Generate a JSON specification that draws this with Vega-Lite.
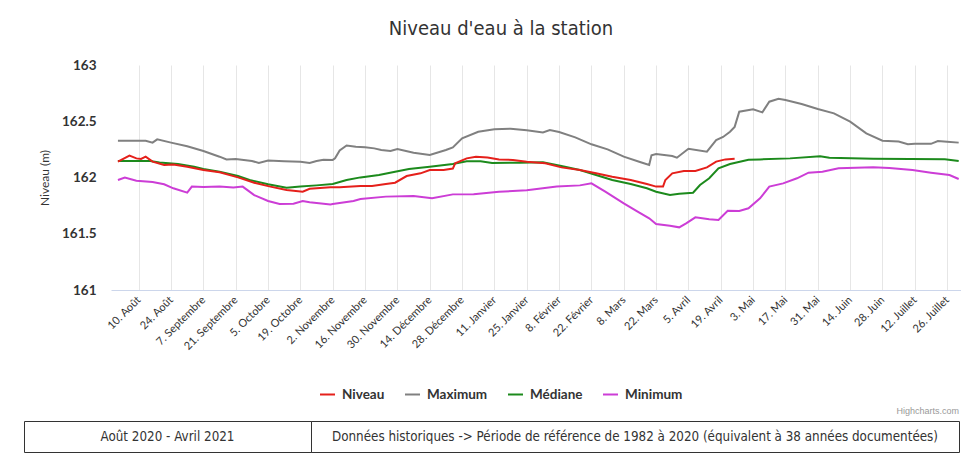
{
  "$schema": "https://vega.github.io/schema/vega-lite/v6.json",
  "background": "white",
  "padding": {"left": 23, "top": 19, "right": 0, "bottom": 0},
  "config": {"view": {"stroke": null}, "font": "Lato"},
  "bounds": "flush",
  "spacing": 356,
  "vconcat": [
    {
      "bounds": "flush",
      "spacing": 0,
      "hconcat": [
        {
          "width": 87,
          "height": 225,
          "data": {"values": [{"t": ""}]},
          "mark": {"type": "text"},
          "encoding": {"text": {"field": "t"}}
        },
        {
          "width": 850,
          "height": 225,
          "title": {
            "text": "Niveau d'eau à la station",
            "anchor": "middle",
            "frame": "group",
            "dx": -35,
            "offset": 3,
            "baseline": "alphabetic",
            "font": "'Liberation Sans Narrow', 'DejaVu Sans Condensed', 'Liberation Sans', sans-serif",
            "fontSize": 20,
            "fontWeight": "normal",
            "color": "#333333"
          },
          "data": {
            "values": [
              {"d": "2020-08-01", "s": "Maximum", "v": 162.327},
              {"d": "2020-08-13", "s": "Maximum", "v": 162.327},
              {"d": "2020-08-16", "s": "Maximum", "v": 162.31},
              {"d": "2020-08-18", "s": "Maximum", "v": 162.339},
              {"d": "2020-08-24", "s": "Maximum", "v": 162.31},
              {"d": "2020-08-31", "s": "Maximum", "v": 162.278},
              {"d": "2020-09-07", "s": "Maximum", "v": 162.236},
              {"d": "2020-09-14", "s": "Maximum", "v": 162.185},
              {"d": "2020-09-17", "s": "Maximum", "v": 162.161},
              {"d": "2020-09-21", "s": "Maximum", "v": 162.164},
              {"d": "2020-09-28", "s": "Maximum", "v": 162.147},
              {"d": "2020-10-01", "s": "Maximum", "v": 162.13},
              {"d": "2020-10-05", "s": "Maximum", "v": 162.15},
              {"d": "2020-10-12", "s": "Maximum", "v": 162.144},
              {"d": "2020-10-19", "s": "Maximum", "v": 162.141},
              {"d": "2020-10-23", "s": "Maximum", "v": 162.13},
              {"d": "2020-10-26", "s": "Maximum", "v": 162.147},
              {"d": "2020-10-29", "s": "Maximum", "v": 162.158},
              {"d": "2020-11-02", "s": "Maximum", "v": 162.156},
              {"d": "2020-11-03", "s": "Maximum", "v": 162.17},
              {"d": "2020-11-05", "s": "Maximum", "v": 162.24},
              {"d": "2020-11-08", "s": "Maximum", "v": 162.285},
              {"d": "2020-11-12", "s": "Maximum", "v": 162.274},
              {"d": "2020-11-16", "s": "Maximum", "v": 162.268},
              {"d": "2020-11-20", "s": "Maximum", "v": 162.259},
              {"d": "2020-11-23", "s": "Maximum", "v": 162.244},
              {"d": "2020-11-27", "s": "Maximum", "v": 162.236},
              {"d": "2020-11-30", "s": "Maximum", "v": 162.253},
              {"d": "2020-12-07", "s": "Maximum", "v": 162.22},
              {"d": "2020-12-14", "s": "Maximum", "v": 162.2},
              {"d": "2020-12-21", "s": "Maximum", "v": 162.244},
              {"d": "2020-12-24", "s": "Maximum", "v": 162.268},
              {"d": "2020-12-28", "s": "Maximum", "v": 162.348},
              {"d": "2021-01-04", "s": "Maximum", "v": 162.407},
              {"d": "2021-01-11", "s": "Maximum", "v": 162.428},
              {"d": "2021-01-18", "s": "Maximum", "v": 162.434},
              {"d": "2021-01-25", "s": "Maximum", "v": 162.42},
              {"d": "2021-02-01", "s": "Maximum", "v": 162.401},
              {"d": "2021-02-04", "s": "Maximum", "v": 162.422},
              {"d": "2021-02-08", "s": "Maximum", "v": 162.404},
              {"d": "2021-02-15", "s": "Maximum", "v": 162.357},
              {"d": "2021-02-22", "s": "Maximum", "v": 162.295},
              {"d": "2021-03-01", "s": "Maximum", "v": 162.25},
              {"d": "2021-03-08", "s": "Maximum", "v": 162.185},
              {"d": "2021-03-15", "s": "Maximum", "v": 162.138},
              {"d": "2021-03-19", "s": "Maximum", "v": 162.111},
              {"d": "2021-03-20", "s": "Maximum", "v": 162.197},
              {"d": "2021-03-22", "s": "Maximum", "v": 162.209},
              {"d": "2021-03-29", "s": "Maximum", "v": 162.191},
              {"d": "2021-03-31", "s": "Maximum", "v": 162.176},
              {"d": "2021-04-05", "s": "Maximum", "v": 162.256},
              {"d": "2021-04-13", "s": "Maximum", "v": 162.23},
              {"d": "2021-04-17", "s": "Maximum", "v": 162.333},
              {"d": "2021-04-20", "s": "Maximum", "v": 162.36},
              {"d": "2021-04-23", "s": "Maximum", "v": 162.407},
              {"d": "2021-04-25", "s": "Maximum", "v": 162.45},
              {"d": "2021-04-27", "s": "Maximum", "v": 162.585},
              {"d": "2021-05-03", "s": "Maximum", "v": 162.606},
              {"d": "2021-05-07", "s": "Maximum", "v": 162.579},
              {"d": "2021-05-10", "s": "Maximum", "v": 162.674},
              {"d": "2021-05-14", "s": "Maximum", "v": 162.7},
              {"d": "2021-05-17", "s": "Maximum", "v": 162.689},
              {"d": "2021-05-24", "s": "Maximum", "v": 162.653},
              {"d": "2021-05-31", "s": "Maximum", "v": 162.609},
              {"d": "2021-06-07", "s": "Maximum", "v": 162.57},
              {"d": "2021-06-14", "s": "Maximum", "v": 162.496},
              {"d": "2021-06-21", "s": "Maximum", "v": 162.393},
              {"d": "2021-06-28", "s": "Maximum", "v": 162.327},
              {"d": "2021-07-05", "s": "Maximum", "v": 162.319},
              {"d": "2021-07-09", "s": "Maximum", "v": 162.295},
              {"d": "2021-07-12", "s": "Maximum", "v": 162.3},
              {"d": "2021-07-19", "s": "Maximum", "v": 162.299},
              {"d": "2021-07-22", "s": "Maximum", "v": 162.324},
              {"d": "2021-07-26", "s": "Maximum", "v": 162.318},
              {"d": "2021-07-31", "s": "Maximum", "v": 162.31},

              {"d": "2020-08-01", "s": "Médiane", "v": 162.147},
              {"d": "2020-08-15", "s": "Médiane", "v": 162.147},
              {"d": "2020-08-19", "s": "Médiane", "v": 162.134},
              {"d": "2020-08-27", "s": "Médiane", "v": 162.12},
              {"d": "2020-09-03", "s": "Médiane", "v": 162.096},
              {"d": "2020-09-07", "s": "Médiane", "v": 162.076},
              {"d": "2020-09-14", "s": "Médiane", "v": 162.052},
              {"d": "2020-09-22", "s": "Médiane", "v": 162.013},
              {"d": "2020-09-27", "s": "Médiane", "v": 161.978},
              {"d": "2020-10-05", "s": "Médiane", "v": 161.94},
              {"d": "2020-10-13", "s": "Médiane", "v": 161.91},
              {"d": "2020-10-19", "s": "Médiane", "v": 161.919},
              {"d": "2020-10-26", "s": "Médiane", "v": 161.93},
              {"d": "2020-11-02", "s": "Médiane", "v": 161.942},
              {"d": "2020-11-08", "s": "Médiane", "v": 161.978},
              {"d": "2020-11-14", "s": "Médiane", "v": 162.001},
              {"d": "2020-11-22", "s": "Médiane", "v": 162.022},
              {"d": "2020-11-29", "s": "Médiane", "v": 162.052},
              {"d": "2020-12-05", "s": "Médiane", "v": 162.076},
              {"d": "2020-12-14", "s": "Médiane", "v": 162.096},
              {"d": "2020-12-24", "s": "Médiane", "v": 162.12},
              {"d": "2020-12-30", "s": "Médiane", "v": 162.144},
              {"d": "2021-01-05", "s": "Médiane", "v": 162.144},
              {"d": "2021-01-10", "s": "Médiane", "v": 162.129},
              {"d": "2021-01-22", "s": "Médiane", "v": 162.132},
              {"d": "2021-02-01", "s": "Médiane", "v": 162.136},
              {"d": "2021-02-09", "s": "Médiane", "v": 162.102},
              {"d": "2021-02-17", "s": "Médiane", "v": 162.067},
              {"d": "2021-02-24", "s": "Médiane", "v": 162.022},
              {"d": "2021-03-03", "s": "Médiane", "v": 161.978},
              {"d": "2021-03-11", "s": "Médiane", "v": 161.942},
              {"d": "2021-03-18", "s": "Médiane", "v": 161.904},
              {"d": "2021-03-22", "s": "Médiane", "v": 161.874},
              {"d": "2021-03-28", "s": "Médiane", "v": 161.844},
              {"d": "2021-04-01", "s": "Médiane", "v": 161.855},
              {"d": "2021-04-07", "s": "Médiane", "v": 161.865},
              {"d": "2021-04-10", "s": "Médiane", "v": 161.933},
              {"d": "2021-04-14", "s": "Médiane", "v": 161.993},
              {"d": "2021-04-18", "s": "Médiane", "v": 162.082},
              {"d": "2021-04-23", "s": "Médiane", "v": 162.12},
              {"d": "2021-05-01", "s": "Médiane", "v": 162.158},
              {"d": "2021-05-06", "s": "Médiane", "v": 162.161},
              {"d": "2021-05-19", "s": "Médiane", "v": 162.17},
              {"d": "2021-06-01", "s": "Médiane", "v": 162.189},
              {"d": "2021-06-05", "s": "Médiane", "v": 162.175},
              {"d": "2021-06-24", "s": "Médiane", "v": 162.167},
              {"d": "2021-07-10", "s": "Médiane", "v": 162.165},
              {"d": "2021-07-25", "s": "Médiane", "v": 162.163},
              {"d": "2021-07-31", "s": "Médiane", "v": 162.147},

              {"d": "2020-08-01", "s": "Niveau", "v": 162.141},
              {"d": "2020-08-06", "s": "Niveau", "v": 162.194},
              {"d": "2020-08-09", "s": "Niveau", "v": 162.17},
              {"d": "2020-08-11", "s": "Niveau", "v": 162.165},
              {"d": "2020-08-13", "s": "Niveau", "v": 162.185},
              {"d": "2020-08-16", "s": "Niveau", "v": 162.141},
              {"d": "2020-08-21", "s": "Niveau", "v": 162.111},
              {"d": "2020-08-25", "s": "Niveau", "v": 162.115},
              {"d": "2020-08-31", "s": "Niveau", "v": 162.096},
              {"d": "2020-09-07", "s": "Niveau", "v": 162.067},
              {"d": "2020-09-14", "s": "Niveau", "v": 162.046},
              {"d": "2020-09-22", "s": "Niveau", "v": 162.001},
              {"d": "2020-09-29", "s": "Niveau", "v": 161.954},
              {"d": "2020-10-06", "s": "Niveau", "v": 161.919},
              {"d": "2020-10-13", "s": "Niveau", "v": 161.889},
              {"d": "2020-10-20", "s": "Niveau", "v": 161.874},
              {"d": "2020-10-23", "s": "Niveau", "v": 161.9},
              {"d": "2020-11-01", "s": "Niveau", "v": 161.913},
              {"d": "2020-11-05", "s": "Niveau", "v": 161.913},
              {"d": "2020-11-14", "s": "Niveau", "v": 161.924},
              {"d": "2020-11-19", "s": "Niveau", "v": 161.924},
              {"d": "2020-11-25", "s": "Niveau", "v": 161.942},
              {"d": "2020-11-29", "s": "Niveau", "v": 161.954},
              {"d": "2020-12-04", "s": "Niveau", "v": 162.013},
              {"d": "2020-12-10", "s": "Niveau", "v": 162.037},
              {"d": "2020-12-14", "s": "Niveau", "v": 162.067},
              {"d": "2020-12-20", "s": "Niveau", "v": 162.067},
              {"d": "2020-12-24", "s": "Niveau", "v": 162.079},
              {"d": "2020-12-25", "s": "Niveau", "v": 162.126},
              {"d": "2020-12-30", "s": "Niveau", "v": 162.17},
              {"d": "2021-01-03", "s": "Niveau", "v": 162.185},
              {"d": "2021-01-08", "s": "Niveau", "v": 162.178},
              {"d": "2021-01-13", "s": "Niveau", "v": 162.161},
              {"d": "2021-01-19", "s": "Niveau", "v": 162.156},
              {"d": "2021-01-25", "s": "Niveau", "v": 162.141},
              {"d": "2021-02-02", "s": "Niveau", "v": 162.126},
              {"d": "2021-02-09", "s": "Niveau", "v": 162.09},
              {"d": "2021-02-17", "s": "Niveau", "v": 162.067},
              {"d": "2021-02-24", "s": "Niveau", "v": 162.037},
              {"d": "2021-03-03", "s": "Niveau", "v": 162.007},
              {"d": "2021-03-11", "s": "Niveau", "v": 161.978},
              {"d": "2021-03-18", "s": "Niveau", "v": 161.942},
              {"d": "2021-03-22", "s": "Niveau", "v": 161.919},
              {"d": "2021-03-25", "s": "Niveau", "v": 161.919},
              {"d": "2021-03-26", "s": "Niveau", "v": 161.978},
              {"d": "2021-03-29", "s": "Niveau", "v": 162.037},
              {"d": "2021-04-03", "s": "Niveau", "v": 162.058},
              {"d": "2021-04-08", "s": "Niveau", "v": 162.058},
              {"d": "2021-04-13", "s": "Niveau", "v": 162.09},
              {"d": "2021-04-17", "s": "Niveau", "v": 162.141},
              {"d": "2021-04-21", "s": "Niveau", "v": 162.161},
              {"d": "2021-04-25", "s": "Niveau", "v": 162.167},

              {"d": "2020-08-01", "s": "Minimum", "v": 161.978},
              {"d": "2020-08-04", "s": "Minimum", "v": 161.999},
              {"d": "2020-08-09", "s": "Minimum", "v": 161.972},
              {"d": "2020-08-16", "s": "Minimum", "v": 161.96},
              {"d": "2020-08-21", "s": "Minimum", "v": 161.94},
              {"d": "2020-08-25", "s": "Minimum", "v": 161.904},
              {"d": "2020-08-31", "s": "Minimum", "v": 161.865},
              {"d": "2020-09-02", "s": "Minimum", "v": 161.919},
              {"d": "2020-09-07", "s": "Minimum", "v": 161.915},
              {"d": "2020-09-14", "s": "Minimum", "v": 161.919},
              {"d": "2020-09-20", "s": "Minimum", "v": 161.912},
              {"d": "2020-09-24", "s": "Minimum", "v": 161.919},
              {"d": "2020-09-29", "s": "Minimum", "v": 161.844},
              {"d": "2020-10-05", "s": "Minimum", "v": 161.791},
              {"d": "2020-10-10", "s": "Minimum", "v": 161.764},
              {"d": "2020-10-16", "s": "Minimum", "v": 161.766},
              {"d": "2020-10-20", "s": "Minimum", "v": 161.791},
              {"d": "2020-10-23", "s": "Minimum", "v": 161.78},
              {"d": "2020-11-01", "s": "Minimum", "v": 161.761},
              {"d": "2020-11-02", "s": "Minimum", "v": 161.764},
              {"d": "2020-11-11", "s": "Minimum", "v": 161.791},
              {"d": "2020-11-14", "s": "Minimum", "v": 161.809},
              {"d": "2020-11-25", "s": "Minimum", "v": 161.83},
              {"d": "2020-12-07", "s": "Minimum", "v": 161.836},
              {"d": "2020-12-15", "s": "Minimum", "v": 161.815},
              {"d": "2020-12-24", "s": "Minimum", "v": 161.85},
              {"d": "2021-01-02", "s": "Minimum", "v": 161.852},
              {"d": "2021-01-13", "s": "Minimum", "v": 161.874},
              {"d": "2021-01-25", "s": "Minimum", "v": 161.886},
              {"d": "2021-02-07", "s": "Minimum", "v": 161.919},
              {"d": "2021-02-17", "s": "Minimum", "v": 161.93},
              {"d": "2021-02-22", "s": "Minimum", "v": 161.948},
              {"d": "2021-02-28", "s": "Minimum", "v": 161.874},
              {"d": "2021-03-08", "s": "Minimum", "v": 161.77},
              {"d": "2021-03-14", "s": "Minimum", "v": 161.696},
              {"d": "2021-03-19", "s": "Minimum", "v": 161.637},
              {"d": "2021-03-22", "s": "Minimum", "v": 161.587},
              {"d": "2021-03-28", "s": "Minimum", "v": 161.572},
              {"d": "2021-04-01", "s": "Minimum", "v": 161.557},
              {"d": "2021-04-04", "s": "Minimum", "v": 161.593},
              {"d": "2021-04-08", "s": "Minimum", "v": 161.646},
              {"d": "2021-04-14", "s": "Minimum", "v": 161.628},
              {"d": "2021-04-18", "s": "Minimum", "v": 161.622},
              {"d": "2021-04-22", "s": "Minimum", "v": 161.705},
              {"d": "2021-04-27", "s": "Minimum", "v": 161.702},
              {"d": "2021-05-01", "s": "Minimum", "v": 161.726},
              {"d": "2021-05-06", "s": "Minimum", "v": 161.815},
              {"d": "2021-05-10", "s": "Minimum", "v": 161.919},
              {"d": "2021-05-16", "s": "Minimum", "v": 161.948},
              {"d": "2021-05-22", "s": "Minimum", "v": 161.993},
              {"d": "2021-05-27", "s": "Minimum", "v": 162.043},
              {"d": "2021-06-02", "s": "Minimum", "v": 162.052},
              {"d": "2021-06-09", "s": "Minimum", "v": 162.082},
              {"d": "2021-06-24", "s": "Minimum", "v": 162.09},
              {"d": "2021-07-01", "s": "Minimum", "v": 162.085},
              {"d": "2021-07-11", "s": "Minimum", "v": 162.067},
              {"d": "2021-07-19", "s": "Minimum", "v": 162.043},
              {"d": "2021-07-27", "s": "Minimum", "v": 162.022},
              {"d": "2021-07-31", "s": "Minimum", "v": 161.987}
            ]
          },
          "mark": {"type": "line", "strokeWidth": 2, "interpolate": "linear"},
          "encoding": {
            "x": {
              "field": "d",
              "type": "temporal",
              "scale": {
                "type": "utc",
                "domain": [
                  {"year": 2020, "month": 7, "date": 29, "utc": true},
                  {"year": 2021, "month": 8, "date": 1, "utc": true}
                ]
              },
              "axis": {
                "title": null,
                "values": [
                  {"year": 2020, "month": 8, "date": 10, "utc": true},
                  {"year": 2020, "month": 8, "date": 24, "utc": true},
                  {"year": 2020, "month": 9, "date": 7, "utc": true},
                  {"year": 2020, "month": 9, "date": 21, "utc": true},
                  {"year": 2020, "month": 10, "date": 5, "utc": true},
                  {"year": 2020, "month": 10, "date": 19, "utc": true},
                  {"year": 2020, "month": 11, "date": 2, "utc": true},
                  {"year": 2020, "month": 11, "date": 16, "utc": true},
                  {"year": 2020, "month": 11, "date": 30, "utc": true},
                  {"year": 2020, "month": 12, "date": 14, "utc": true},
                  {"year": 2020, "month": 12, "date": 28, "utc": true},
                  {"year": 2021, "month": 1, "date": 11, "utc": true},
                  {"year": 2021, "month": 1, "date": 25, "utc": true},
                  {"year": 2021, "month": 2, "date": 8, "utc": true},
                  {"year": 2021, "month": 2, "date": 22, "utc": true},
                  {"year": 2021, "month": 3, "date": 8, "utc": true},
                  {"year": 2021, "month": 3, "date": 22, "utc": true},
                  {"year": 2021, "month": 4, "date": 5, "utc": true},
                  {"year": 2021, "month": 4, "date": 19, "utc": true},
                  {"year": 2021, "month": 5, "date": 3, "utc": true},
                  {"year": 2021, "month": 5, "date": 17, "utc": true},
                  {"year": 2021, "month": 5, "date": 31, "utc": true},
                  {"year": 2021, "month": 6, "date": 14, "utc": true},
                  {"year": 2021, "month": 6, "date": 28, "utc": true},
                  {"year": 2021, "month": 7, "date": 12, "utc": true},
                  {"year": 2021, "month": 7, "date": 26, "utc": true}
                ],
                "labelExpr": "utcdate(datum.value) + '. ' + ['Janvier','Février','Mars','Avril','Mai','Juin','Juillet','Août','Septembre','Octobre','Novembre','Décembre'][utcmonth(datum.value)]",
                "labelAngle": -45,
                "labelAlign": "right",
                "labelBaseline": "middle",
                "labelFont": "Lato",
                "labelFontSize": 11,
                "labelColor": "#333333",
                "labelPadding": 8,
                "labelOverlap": false,
                "labelFlush": false,
                "labelBound": false,
                "ticks": false,
                "grid": true,
                "gridColor": "#e6e6e6",
                "gridWidth": 1,
                "domainColor": "#ccd6eb",
                "domainWidth": 1
              }
            },
            "y": {
              "field": "v",
              "type": "quantitative",
              "scale": {"domain": [161, 163], "nice": false, "zero": false},
              "axis": {
                "title": "Niveau (m)",
                "titleFont": "Lato",
                "titleFontSize": 12,
                "titleFontWeight": "normal",
                "titleColor": "#333333",
                "titlePadding": 10,
                "values": [161, 161.5, 162, 162.5, 163],
                "format": "~g",
                "labelFont": "Lato",
                "labelFontSize": 13.5,
                "labelFontWeight": "bold",
                "labelColor": "#333333",
                "labelPadding": 15,
                "grid": false,
                "domain": false,
                "ticks": false
              }
            },
            "color": {
              "field": "s",
              "type": "nominal",
              "scale": {
                "domain": ["Niveau", "Maximum", "Médiane", "Minimum"],
                "range": ["#e5201b", "#808080", "#1c8a1c", "#cc3dd6"]
              },
              "legend": {
                "title": null,
                "orient": "none",
                "direction": "horizontal",
                "legendX": 295,
                "legendY": 321,
                "symbolType": "stroke",
                "symbolStrokeWidth": 2,
                "symbolSize": 225,
                "labelFont": "Lato",
                "labelFontSize": 13.5,
                "labelFontWeight": "bold",
                "labelColor": "#333333",
                "labelOffset": 6,
                "columnPadding": 16
              }
            }
          }
        }
      ]
    },
    {
      "bounds": "flush",
      "spacing": 0,
      "hconcat": [
        {
          "width": 287,
          "height": 31,
          "view": {"stroke": "#333333", "strokeWidth": 1},
          "data": {"values": [{"t": "Août 2020 - Avril 2021"}]},
          "mark": {
            "type": "text",
            "font": "'Liberation Sans Narrow', 'DejaVu Sans Condensed', 'Liberation Sans', sans-serif",
            "fontSize": 13.3,
            "color": "#333333"
          },
          "encoding": {"text": {"field": "t"}}
        },
        {
          "width": 648,
          "height": 31,
          "view": {"stroke": "#333333", "strokeWidth": 1},
          "title": {
            "text": "Highcharts.com",
            "anchor": "end",
            "offset": 5,
            "fontSize": 9,
            "fontWeight": "normal",
            "color": "#999999",
            "font": "'Liberation Sans Narrow', 'Liberation Sans', sans-serif"
          },
          "data": {"values": [{"t": "Données historiques -> Période de référence de 1982 à 2020 (équivalent à 38 années documentées)"}]},
          "mark": {
            "type": "text",
            "font": "'Liberation Sans Narrow', 'DejaVu Sans Condensed', 'Liberation Sans', sans-serif",
            "fontSize": 13.3,
            "color": "#333333"
          },
          "encoding": {"text": {"field": "t"}}
        }
      ]
    }
  ]
}
